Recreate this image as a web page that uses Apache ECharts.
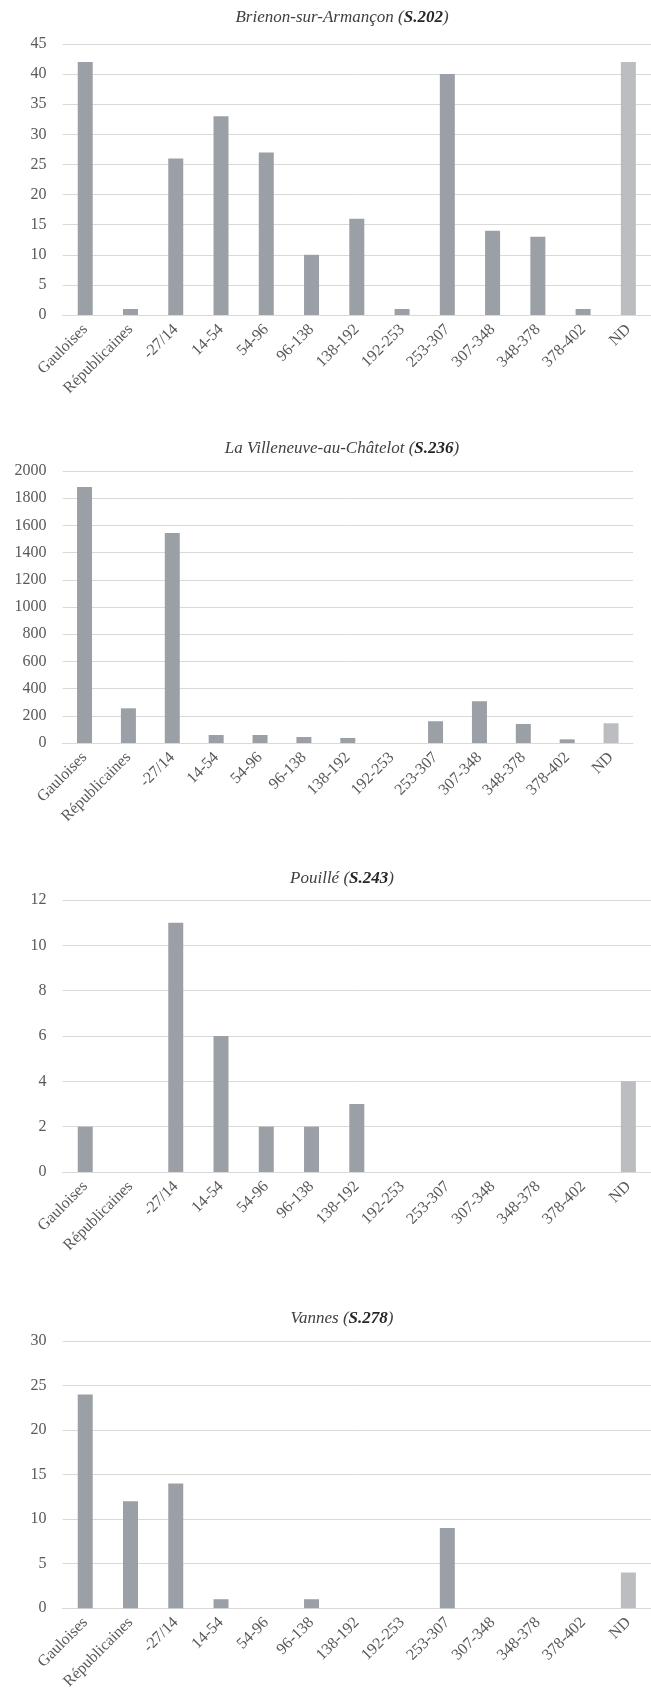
<!DOCTYPE html>
<html><head><meta charset="utf-8">
<script src="https://cdn.jsdelivr.net/npm/echarts@6/dist/echarts.min.js"></script>
<style>html,body{margin:0;padding:0;background:#fff}#c{width:651px;height:1692px}</style>
</head><body><div id="c"></div>
<script>
const categories = ['Gauloises','Républicaines','-27/14','14-54','54-96','96-138','138-192','192-253','253-307','307-348','348-378','378-402','ND'];
const brienonValues = [42,1,26,33,27,10,16,1,40,14,13,1,42];
const villeneuveValues = [1882,255,1545,59,59,44,37,0,160,307,140,27,145];
const pouilleValues = [2,0,11,6,2,2,3,0,0,0,0,0,4];
const vannesValues = [24,12,14,1,0,1,0,0,9,0,0,0,4];
const titles = [['Brienon-sur-Armançon (','S.202',')'],['La Villeneuve-au-Châtelot (','S.236',')'],['Pouillé (','S.243',')'],['Vannes (','S.278',')']];
const yMax = [45,2000,12,30];
const yInterval = [5,200,2,5];
const allValues = [brienonValues, villeneuveValues, pouilleValues, vannesValues];

const layout = [
  {titleTop: 4, top: 44, height: 271, right: 0},
  {titleTop: 435, top: 471, height: 272, right: 18},
  {titleTop: 865, top: 900, height: 272, right: 0},
  {titleTop: 1305, top: 1341, height: 271, right: 0}
];
const serif = "'Liberation Serif', 'DejaVu Serif', serif";
const textColor = '#595959';
const gridColor = '#d9d9d9';

const option = {
  animation: false,
  backgroundColor: '#fff',
  title: [], grid: [], xAxis: [], yAxis: [], series: []
};
layout.forEach((L, i) => {
  option.title.push({
    text: '{i|' + titles[i][0] + '}{b|' + titles[i][1] + '}{i|' + titles[i][2] + '}',
    left: 337, textAlign: 'center', top: L.titleTop,
    textStyle: { fontWeight: 'normal', fontStyle: 'italic', fontFamily: serif, fontSize: 17, rich: {
      i: { fontFamily: serif, fontStyle: 'italic', fontWeight: 'normal', fontSize: 17, color: '#404040' },
      b: { fontFamily: serif, fontStyle: 'italic', fontWeight: 'bold', fontSize: 17, color: '#262626' }
    }}
  });
  option.grid.push({ left: 62.6, right: L.right, top: L.top, height: L.height, containLabel: false });
  option.xAxis.push({
    type: 'category', gridIndex: i, data: categories,
    axisLine: { lineStyle: { color: gridColor, width: 1 } },
    axisTick: { show: false },
    axisLabel: { rotate: 45, interval: 0, margin: 12, fontFamily: serif, fontSize: 16, color: textColor }
  });
  option.yAxis.push({
    type: 'value', gridIndex: i, min: 0, max: yMax[i], interval: yInterval[i],
    axisLine: { show: false }, axisTick: { show: false },
    splitLine: { lineStyle: { color: gridColor, width: 1 } },
    axisLabel: { margin: 16, fontFamily: serif, fontSize: 16, color: textColor, formatter: v => String(v) }
  });
  option.series.push({
    type: 'bar', xAxisIndex: i, yAxisIndex: i, data: allValues[i], barWidth: 15,
    itemStyle: { color: p => p.name === 'ND' ? '#bcbdc0' : '#9b9fa6' }
  });
});
const chart = echarts.init(document.getElementById('c'), null, {renderer: 'canvas'});
chart.setOption(option);
</script></body></html>
